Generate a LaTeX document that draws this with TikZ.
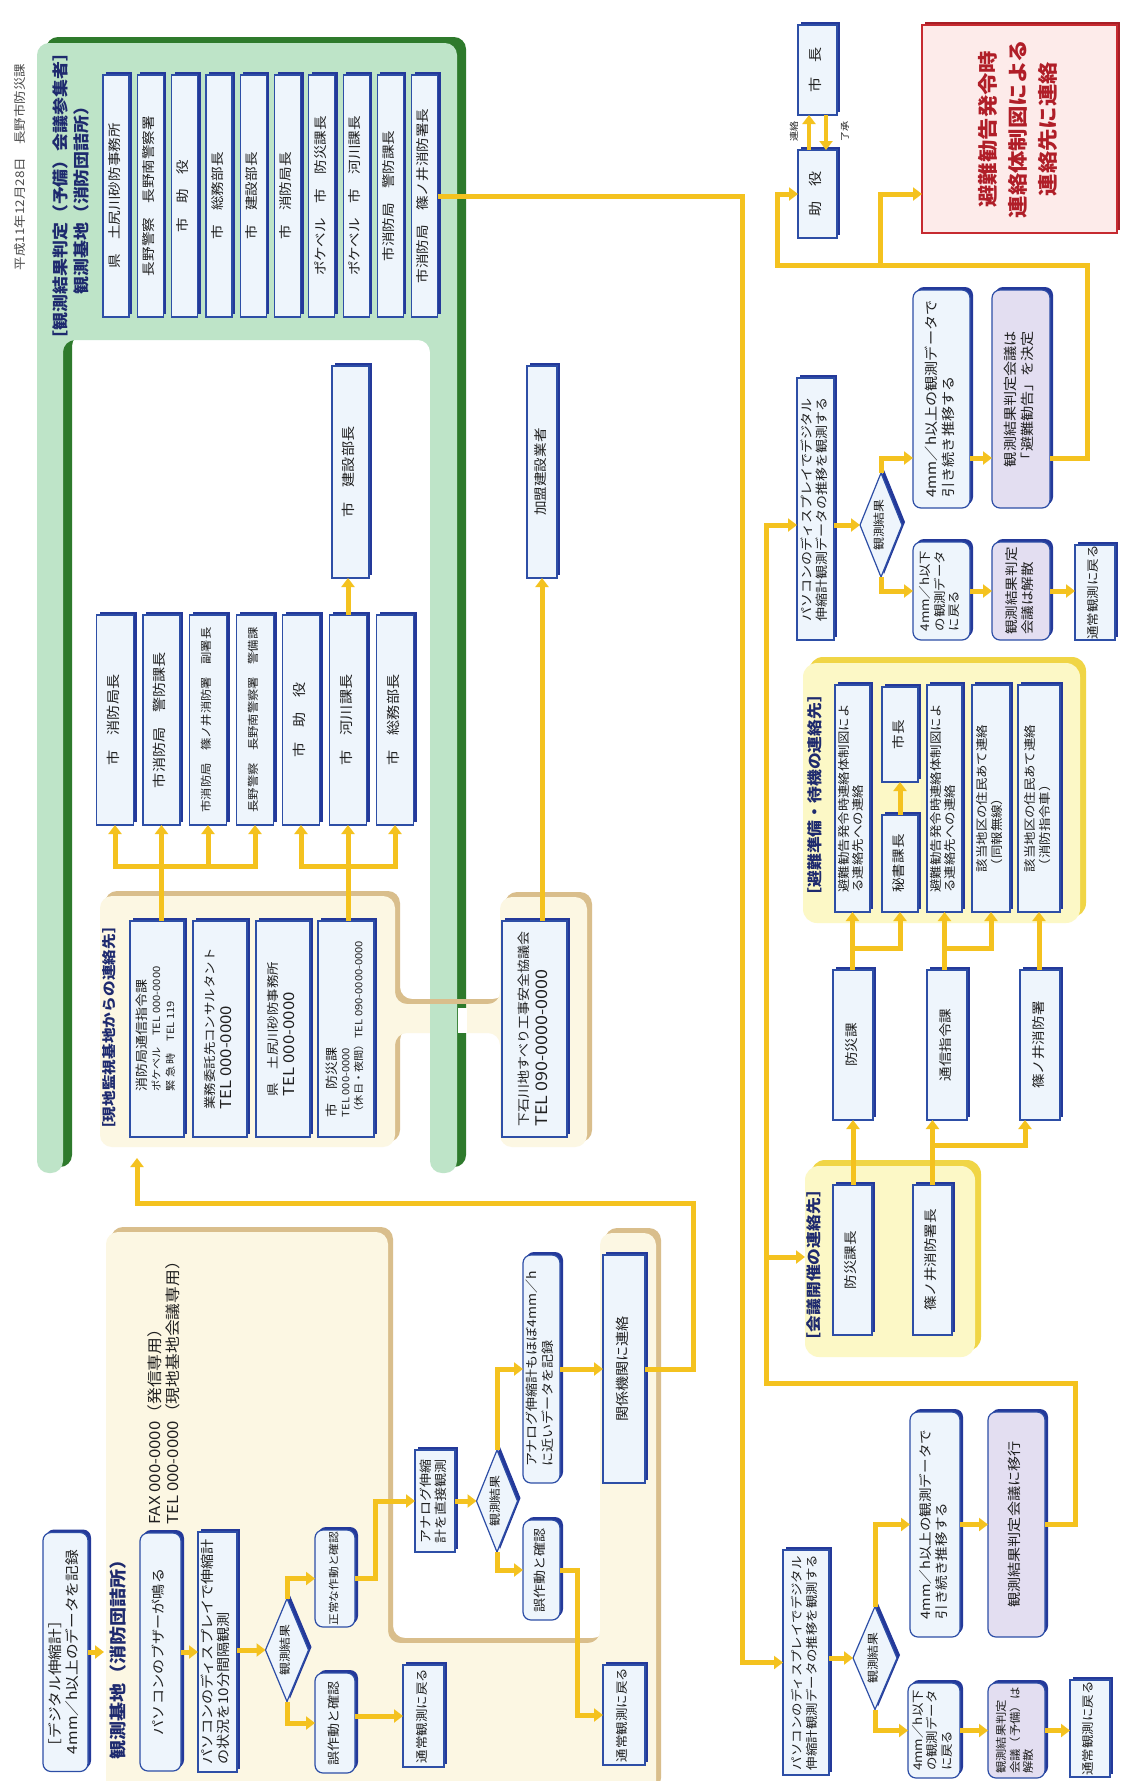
\documentclass[tikz,border=0pt]{standalone}
\usepackage{graphicx}
\usepackage{fontspec}
\setmainfont{Noto Sans CJK JP}[FakeStretch=1.12]
\usetikzlibrary{shapes.geometric,arrows.meta,shadows}
\definecolor{conn}{HTML}{F4C21F}
\definecolor{bfill}{HTML}{EEF5FC}
\definecolor{bline}{HTML}{2D4EA6}
\definecolor{bshad}{HTML}{24399A}
\definecolor{pfill}{HTML}{E3DEF1}
\definecolor{rfill}{HTML}{FDEBEA}
\definecolor{rline}{HTML}{C62A30}
\definecolor{rshad}{HTML}{A81E26}
\definecolor{rtext}{HTML}{B01E28}
\definecolor{lgreen}{HTML}{BEE4C8}
\definecolor{dgreen}{HTML}{2E7A2C}
\definecolor{cream}{HTML}{FCF7E3}
\definecolor{tanc}{HTML}{D9BE8C}
\definecolor{yfill}{HTML}{FCF8C6}
\definecolor{yshad}{HTML}{F0D546}
\definecolor{hdr}{HTML}{1E2A6E}
\definecolor{txt}{HTML}{202020}
\newcommand{\rtx}[2][c]{\rotatebox{90}{\begin{tabular}{@{}#1@{}}#2\end{tabular}}}
\newcommand{\fz}[2]{\fontsize{#1}{#2}\selectfont}
\begin{document}
\begin{tikzpicture}[x=1pt,y=-1pt,
  wh/.style 2 args={minimum width=#1pt, minimum height=#2pt},
  base/.style={draw=bline, line width=1.2pt, fill=bfill, inner sep=0pt, outer sep=0pt, text=txt},
  bx/.style={base, general shadow={fill=bshad, shadow xshift=3pt, shadow yshift=3pt}},
  rbx/.style={bx, rounded corners=8pt},
  pbx/.style={rbx, fill=pfill},
  dia/.style={bx, diamond, aspect=0.42},
  gb/.style={bx, wh={26}{242}, font=\fz{13}{15}},
  cb/.style={bx, wh={37}{210}, font=\fz{13.5}{16}},
  cn/.style={draw=conn, line width=5pt},
  cna/.style={cn, -{Triangle[length=9pt,width=13pt]}},
  hd/.style={text=hdr, inner sep=0pt},
  grp/.style={inner sep=0pt, outer sep=0pt, rounded corners=14pt, fill=yfill, general shadow={fill=yshad, shadow xshift=6pt, shadow yshift=6pt}},
]
\useasboundingbox (0,0) rectangle (1132,1781);
\fill[white] (0,0) rectangle (1132,1781);

% title
\node[inner sep=0pt, text=black!70, font=\fz{12}{14}] (title) at (20,167) {\rotatebox{90}{平成11年12月28日　長野市防災課}};

% ---------- background panels
\path[fill=cream, rounded corners=12pt, general shadow={fill=tanc, shadow xshift=5pt, shadow yshift=5pt}]
  (100,1147) -- (100,896) -- (395,896) -- (395,1004) -- (500,1004) -- (500,897) -- (587,897) -- (587,1147) -- (500,1147) -- (500,1033) -- (395,1033) -- (395,1147) -- cycle;
\path[fill=cream, rounded corners=12pt, general shadow={fill=tanc, shadow xshift=5pt, shadow yshift=5pt}]
  (106,1795) -- (106,1232) -- (388,1232) -- (388,1643) -- (600,1643) -- (600,1233) -- (656,1233) -- (656,1795) -- cycle;
\path[fill=lgreen, rounded corners=12pt, general shadow={fill=dgreen, shadow xshift=9pt, shadow yshift=6pt}]
  (37,1173) -- (37,43) -- (457,43) -- (457,1173) -- (430,1173) -- (430,340) -- (63,340) -- (63,1173) -- cycle;
\fill[white] (457.6,1008) rectangle (467,1033);
\fill[tanc] (430,999) rectangle (467,1004);
\node[grp, wh={277}{260}] (hinan) at (941.5,793) {};
\node[grp, wh={170}{191}] (kaigi) at (890,1261.5) {};

% ---------- headers
\node[hd, font=\bfseries\fz{16}{21}] (hG) at (72.5,196) {\rtx{［観測結果判定（予備）会議参集者］\\観測基地（消防団詰所）}};
\node[hd, font=\bfseries\fz{14}{17}] (hA) at (111,1028) {\rtx{［現地監視基地からの連絡先］}};
\node[hd, font=\bfseries\fz{17}{20}] (hK) at (120,1655) {\rtx{観測基地（消防団詰所）}};
\node[hd, font=\bfseries\fz{15}{18}] (hH) at (817,795) {\rtx{［避難準備・待機の連絡先］}};
\node[hd, font=\bfseries\fz{15}{18}] (hM) at (816,1265) {\rtx{［会議開催の連絡先］}};

% ---------- green group boxes
\node[gb] (g1) at (116,196) {\rtx{県　土尻川砂防事務所}};
\node[gb] (g2) at (150.3,196) {\rtx{長野警察　長野南警察署}};
\node[gb] (g3) at (184.6,196) {\rtx{市　助　役}};
\node[gb] (g4) at (218.9,196) {\rtx{市　総務部長}};
\node[gb] (g5) at (253.2,196) {\rtx{市　建設部長}};
\node[gb] (g6) at (287.5,196) {\rtx{市　消防局長}};
\node[gb] (g7) at (321.8,196) {\rtx{ポケベル　市　防災課長}};
\node[gb] (g8) at (356.1,196) {\rtx{ポケベル　市　河川課長}};
\node[gb] (g9) at (390.4,196) {\rtx{市消防局　警防課長}};
\node[gb] (g10) at (424.7,196) {\rtx{市消防局　篠ノ井消防署長}};

% ---------- inner boxes
\node[bx, wh={37}{212}, font=\fz{13.5}{16}] (kensetsu) at (350.5,472) {\rtx{市　建設部長}};
\node[bx, wh={30}{212}, font=\fz{13}{16}] (kamei) at (542,472) {\rtx{加盟建設業者}};
\node[cb] (c1) at (115,720) {\rtx{市　消防局長}};
\node[cb] (c2) at (161.5,720) {\rtx{市消防局　警防課長}};
\node[cb, font=\fz{11}{13}] (c3) at (208,720) {\rtx{市消防局　篠ノ井消防署　副署長}};
\node[cb, font=\fz{11}{13}] (c4) at (255,720) {\rtx{長野警察　長野南警察署　警備課}};
\node[cb] (c5) at (301,720) {\rtx{市　助　役}};
\node[cb] (c6) at (348,720) {\rtx{市　河川課長}};
\node[cb] (c7) at (395,720) {\rtx{市　総務部長}};

% ---------- group A / B
\node[bx, wh={54}{216}, font=\fz{10}{14}] (a1) at (157,1029) {\rtx[l]{{\fz{12.5}{15}消防局通信指令課}\\ポケベル　TEL 000-0000\\緊 急 時　TEL 119}};
\node[bx, wh={54}{216}, font=\fz{12}{17}] (a2) at (220,1029) {\rtx[l]{業務委託先コンサルタント\\{\fz{15}{17}TEL 000-0000}}};
\node[bx, wh={54}{216}, font=\fz{12}{17}] (a3) at (283,1029) {\rtx[l]{県　土尻川砂防事務所\\{\fz{15}{17}TEL 000-0000}}};
\node[bx, wh={56}{216}, font=\fz{10}{13}] (a4) at (346,1029) {\rtx[l]{{\fz{12.5}{15}市　防災課}\\TEL 000-0000\\（休日・夜間）TEL 090-0000-0000}};
\node[bx, wh={65}{216}, font=\fz{12.5}{19}] (b1) at (534.5,1029) {\rtx[l]{下石川地すべり工事安全協議会\\{\fz{16}{19}TEL 090-0000-0000}}};

% ---------- observation base flow
\node[rbx, wh={45}{239}, font=\fz{14}{17}] (dig) at (65.5,1652) {\rtx[l]{［デジタル伸縮計］\\4mm／h以上のデータを記録}};
\node[rbx, wh={41}{238}, font=\fz{13.5}{16}] (buz) at (160.5,1652) {\rtx{パソコンのブザーが鳴る}};
\node[inner sep=0pt, anchor=south west, font=\fz{15}{18}, text=txt] (fax) at (147,1525) {\rtx[l]{FAX 000-0000（発信専用）\\TEL 000-0000（現地基地会議専用）}};
\node[bx, wh={39}{240}, font=\fz{13.5}{16}] (pc1) at (217.5,1652) {\rtx[l]{パソコンのディスプレイで伸縮計\\の状況を10分間隔観測}};
\node[dia, wh={43}{103}, font=\fz{11.5}{13}] (dia1) at (287,1650) {\rtx{観測結果}};
\node[rbx, wh={40}{97}, font=\fz{10.5}{12}] (ok1) at (335,1578.5) {\rtx{正常な作動と確認}};
\node[rbx, wh={40}{100}, font=\fz{12.5}{14}] (mis1) at (335,1723) {\rtx{誤作動と確認}};
\node[bx, wh={41}{102}, font=\fz{12}{14}] (norm1) at (423.5,1716) {\rtx{通常観測に戻る}};
\node[bx, wh={40}{102}, font=\fz{12.5}{15}] (ana) at (435,1501) {\rtx[l]{アナログ伸縮\\計を直接観測}};
\node[dia, wh={41}{102}, font=\fz{11.5}{13}] (dia2) at (497,1501) {\rtx{観測結果}};
\node[rbx, wh={37}{228}, font=\fz{12.5}{15}] (ana4) at (541.5,1369) {\rtx[l]{アナログ伸縮計もほぼ4mm／h\\に近いデータを記録}};
\node[rbx, wh={37}{100}, font=\fz{12.5}{14}] (mis2) at (541.5,1570) {\rtx{誤作動と確認}};
\node[bx, wh={42}{228}, font=\fz{13.5}{16}] (kan) at (624,1369) {\rtx{関係機関に連絡}};
\node[bx, wh={42}{100}, font=\fz{12}{14}] (norm2) at (624,1715) {\rtx{通常観測に戻る}};

% ---------- top right
\node[bx, wh={39}{90}, font=\fz{13.5}{16}] (shicho) at (817.5,70) {\rtx{市　長}};
\node[bx, wh={39}{88}, font=\fz{13.5}{16}] (jyo) at (817.5,194) {\rtx{助　役}};
\node[inner sep=0pt, font=\fz{9}{10}, text=txt] (lb1) at (794,131) {\rotatebox{90}{連絡}};
\node[inner sep=0pt, font=\fz{9}{10}, text=txt] (lb2) at (845,131) {\rotatebox{90}{了承}};
\node[base, draw=rline, line width=1.5pt, fill=rfill, text=rtext, wh={195}{208}, font=\bfseries\fz{20}{30}, general shadow={fill=rshad, shadow xshift=3pt, shadow yshift=3pt}] (red) at (1019.5,129) {\rtx{避難勧告発令時\\連絡体制図による\\連絡先に連絡}};

\node[bx, wh={37}{262}, font=\fz{12.5}{15}] (pcU) at (815.5,509) {\rtx[l]{パソコンのディスプレイでデジタル\\伸縮計観測データの推移を観測する}};
\node[dia, wh={42}{104}, font=\fz{11.5}{13}] (diaU) at (881,525) {\rtx{観測結果}};
\node[rbx, wh={57}{218}, font=\fz{13.5}{17}] (up4) at (941.5,399) {\rtx[l]{4mm／h以上の観測データで\\引き続き推移する}};
\node[pbx, wh={58}{218}, font=\fz{13.5}{17}] (kettei) at (1021,399) {\rtx[l]{観測結果判定会議は\\「避難勧告」を決定}};
\node[rbx, wh={57}{98}, font=\fz{12}{14.5}] (dn4) at (941.5,591) {\rtx[l]{4mm／h以下\\の観測データ\\に戻る}};
\node[pbx, wh={58}{98}, font=\fz{13}{16}] (kaisan) at (1021,591) {\rtx[l]{観測結果判定\\会議は解散}};
\node[bx, wh={40}{95}, font=\fz{12}{14}] (normU) at (1095,592.5) {\rtx{通常観測に戻る}};

% ---------- hinan group
\node[bx, wh={35}{227}, font=\fz{12}{14}] (h1) at (852.5,798.5) {\rtx[l]{避難勧告発令時連絡体制図によ\\る連絡先への連絡}};
\node[bx, wh={36}{95}, font=\fz{13}{15}] (shicho2) at (900,734.5) {\rtx{市長}};
\node[bx, wh={36}{97}, font=\fz{13}{15}] (hisho) at (900,863.5) {\rtx{秘書課長}};
\node[bx, wh={35}{227}, font=\fz{12}{14}] (h3) at (944.5,798.5) {\rtx[l]{避難勧告発令時連絡体制図によ\\る連絡先への連絡}};
\node[bx, wh={38}{227}, font=\fz{12}{14}] (h4) at (991,798.5) {\rtx[l]{該当地区の住民あて連絡\\（同報無線）}};
\node[bx, wh={42}{227}, font=\fz{12}{14}] (h5) at (1039,798.5) {\rtx[l]{該当地区の住民あて連絡\\（消防指令車）}};

% ---------- middle
\node[bx, wh={40}{150}, font=\fz{13}{15}] (boufuka) at (853,1045) {\rtx{防災課}};
\node[bx, wh={40}{150}, font=\fz{13}{15}] (tsushin) at (947,1045) {\rtx{通信指令課}};
\node[bx, wh={40}{150}, font=\fz{13}{15}] (shinoi) at (1040,1045) {\rtx{篠ノ井消防署}};
\node[bx, wh={39}{150}, font=\fz{13}{15}] (kacho) at (852.5,1260) {\rtx{防災課長}};
\node[bx, wh={39}{150}, font=\fz{13}{15}] (shocho) at (932.5,1260) {\rtx{篠ノ井消防署長}};

% ---------- lower right
\node[bx, wh={46}{225}, font=\fz{12}{15}] (pcL) at (806,1662.5) {\rtx[l]{パソコンのディスプレイでデジタル\\伸縮計観測データの推移を観測する}};
\node[dia, wh={44}{103}, font=\fz{11.5}{13}] (diaL) at (875,1658) {\rtx{観測結果}};
\node[rbx, wh={50}{225}, font=\fz{13}{16}] (up4L) at (935,1524.5) {\rtx[l]{4mm／h以上の観測データで\\引き続き推移する}};
\node[pbx, wh={57}{225}, font=\fz{13.5}{16}] (ikou) at (1016.5,1524.5) {\rtx{観測結果判定会議に移行}};
\node[rbx, wh={52}{95}, font=\fz{12}{14.5}] (dn4L) at (934,1730.5) {\rtx[l]{4mm／h以下\\の観測データ\\に戻る}};
\node[pbx, wh={57}{95}, font=\fz{11}{13.5}] (kaisanL) at (1016.5,1730.5) {\rtx[l]{観測結果判定\\会議（予備）は\\解散}};
\node[bx, wh={40}{97}, font=\fz{12}{14}] (normL) at (1090,1728.5) {\rtx{通常観測に戻る}};

% ================= connectors
% group A -> column
\path (c2.south) ++(0,41) coordinate (hA1);
\path (c6.south) ++(0,41) coordinate (hA2);
\draw[cna] (a1.north -| c2.south) -- (c2.south);
\draw[cna] (hA1) -| (c1.south);
\draw[cna] (hA1) -| (c3.south);
\draw[cna] (hA1) -| (c4.south);
\draw[cna] (a4.north -| c6.south) -- (c6.south);
\draw[cna] (hA2) -| (c5.south);
\draw[cna] (hA2) -| (c7.south);
\draw[cna] (c6.north) -- (c6.north |- kensetsu.south);
\draw[cna] (b1.north -| kamei.south) -- (kamei.south);

% observation base flow
\coordinate (kIn) at (104,1652);
\draw[cna] (dig.east) -- (kIn);
\draw[cna] (buz.east) -- (buz.east -| pc1.west);
\draw[cna] (pc1.east |- dia1.west) -- (dia1.west);
\draw[cna] (dia1.north) |- (ok1.west);
\draw[cna] (dia1.south) |- (mis1.west);
\coordinate (j1) at (375,1540);
\draw[cna] (ok1.east) -| (j1) |- (ana.west);
\draw[cna] (mis1.east |- norm1.west) -- (norm1.west);
\draw[cna] (ana.east) -- (ana.east -| dia2.west);
\draw[cna] (dia2.north) |- (ana4.west);
\draw[cna] (dia2.south) |- (mis2.west);
\coordinate (j2) at (577,1650);
\draw[cna] (mis2.east) -| (j2) |- (norm2.west);
\draw[cna] (ana4.east) -- (ana4.east -| kan.west);
\coordinate (k1) at (693,1203);
\coordinate (k2) at (137,1158);
\draw[cna] (kan.east) -| (k1) -| (k2);

% long line to lower PC
\coordinate (v1) at (742,900);
\draw[cna] (g10.east) -| (v1) |- (pcL.west);

% lower right flow
\draw[cna] (pcL.east |- diaL.west) -- (diaL.west);
\draw[cna] (diaL.north) |- (up4L.west);
\draw[cna] (up4L.east) -- (up4L.east -| ikou.west);
\draw[cna] (diaL.south) |- (dn4L.west);
\draw[cna] (dn4L.east) -- (dn4L.east -| kaisanL.west);
\draw[cna] (kaisanL.east) -- (kaisanL.east -| normL.west);
\coordinate (r1) at (1075,1383);
\coordinate (r2) at (766,1383);
\coordinate (r4) at (766,1257);
\draw[cna] (ikou.east) -| (r1) -- (r2) |- (pcU.west |- diaU.west);
\draw[cna] (r4) -- (r4 -| kaigi.west);

% upper right flow
\draw[cna] (pcU.east |- diaU.west) -- (diaU.west);
\coordinate (u1) at (881,458);
\draw[cna] (diaU.north) |- (up4.west |- u1);
\draw[cna] (up4.east |- u1) -- (kettei.west |- u1);
\coordinate (t2) at (1087,265);
\coordinate (t3) at (777,265);
\coordinate (t4) at (880,265);
\draw[cna] (kettei.east |- u1) -| (t2) -- (t3) |- (jyo.west);
\draw[cna] (t4) |- (red.west |- jyo.west);
\draw[cna] (diaU.south) |- (dn4.west);
\draw[cna] (dn4.east) -- (dn4.east -| kaisan.west);
\draw[cna] (kaisan.east) -- (kaisan.east -| normU.west);
\draw[cna, line width=4pt] ([xshift=-8.5pt]jyo.north) -- ([xshift=-8.5pt]shicho.south);
\draw[cna, line width=4pt] ([xshift=8.5pt]shicho.south) -- ([xshift=8.5pt]jyo.north);

% hinan / kaigi connectors
\path (boufuka.north) ++(0,-22) coordinate (jA);
\path (tsushin.north) ++(0,-22) coordinate (jB);
\draw[cna] (boufuka.north -| h1.south) -- (h1.south);
\draw[cna] (jA) -| (hisho.south);
\draw[cna] (hisho.north) -- (hisho.north |- shicho2.south);
\draw[cna] (tsushin.north -| h3.south) -- (h3.south);
\draw[cna] (jB) -| (h4.south);
\draw[cna] (shinoi.north -| h5.south) -- (h5.south);
\draw[cna] (kacho.north -| boufuka.south) -- (boufuka.south);
\draw[cna] (shocho.north) -- (shocho.north |- tsushin.south);
\path (shocho.north) ++(0,-40) coordinate (jC);
\draw[cna] (jC) -| ([xshift=-15pt]shinoi.south);
\end{tikzpicture}
\end{document}
